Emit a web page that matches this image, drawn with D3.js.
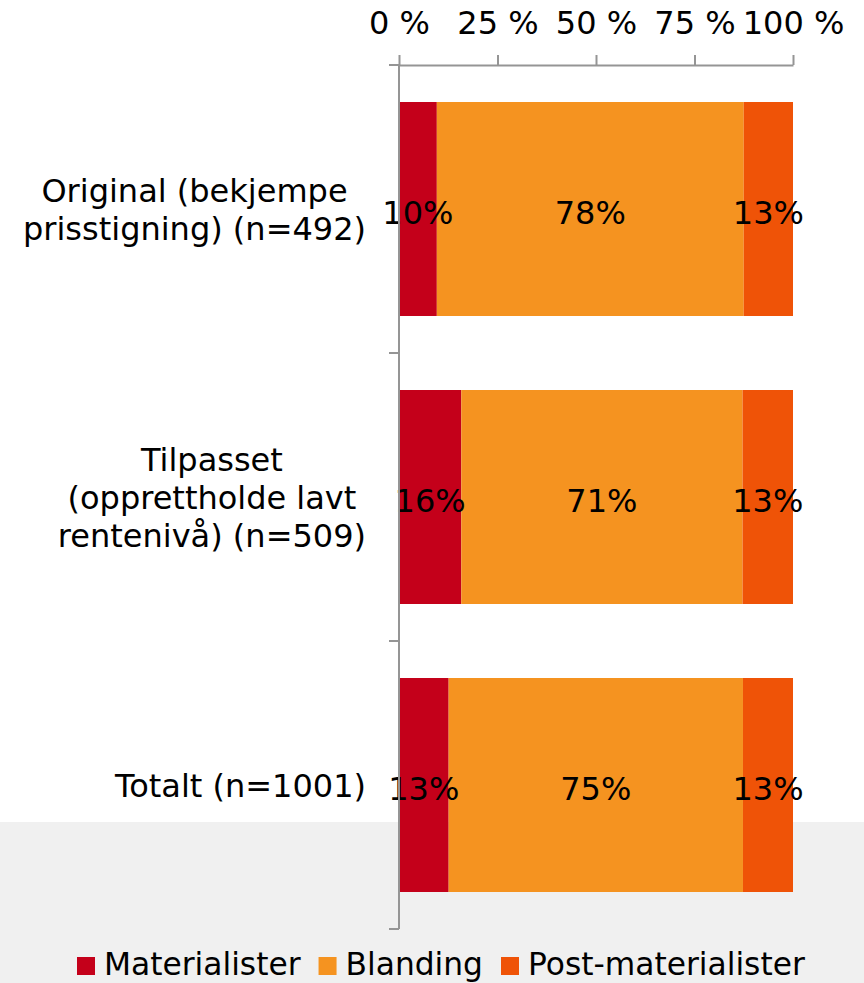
<!DOCTYPE html>
<html>
<head>
<meta charset="utf-8">
<script src="https://cdn.jsdelivr.net/npm/d3@7"></script>
<style>
  html, body { margin: 0; padding: 0; background: #fff; }
  svg { display: block; font-family: "DejaVu Sans", Verdana, sans-serif; }
</style>
</head>
<body>
<svg id="chart" width="864" height="983"></svg>
<script>
// ---- data ----
const categories = [
  ["Original (bekjempe", "prisstigning) (n=492)"],
  ["Tilpasset", "(opprettholde lavt", "rentenivå) (n=509)"],
  ["Totalt (n=1001)"]
];
const seriesNames = ["Materialister", "Blanding", "Post-materialister"];
const materialister = [9.6, 15.8, 12.6];
const blanding = [77.9, 71.4, 74.7];
const postMaterialister = [12.5, 12.8, 12.7];
const tickValues = [0, 25, 50, 75, 100];
const colors = ["#C4001A", "#F59320", "#EF5307"];

// ---- layout ----
const svg = d3.select("#chart");
const W = 864, H = 983;
const axisY = 65, plotBottom = 929;
const x = d3.scaleLinear().domain([0, 100]).range([399, 793]);
const catKeys = categories.map((c, i) => "c" + i);
const yOuter = d3.scaleBand().domain(catKeys).range([axisY, plotBottom]);
const barH = yOuter.step() * 0.743;
const barOff = (yOuter.step() - barH) / 2;

// gray bottom background
svg.append("rect").attr("x", 0).attr("y", 822).attr("width", W).attr("height", H - 822).attr("fill", "#F0F0F0");

// stacked data
const rows = catKeys.map((k, i) => ({ key: k, Materialister: materialister[i], Blanding: blanding[i], "Post-materialister": postMaterialister[i] }));
const stack = d3.stack().keys(seriesNames);
const stacked = stack(rows);

const gBars = svg.append("g");
stacked.forEach((layer, si) => {
  gBars.selectAll(null).data(layer).enter().append("rect")
    .attr("x", d => x(d[0]))
    .attr("width", d => x(d[1]) - x(d[0]))
    .attr("y", d => yOuter(d.data.key) + barOff)
    .attr("height", barH)
    .attr("fill", colors[si]);
});

// data labels
stacked.forEach((layer, si) => {
  gBars.selectAll(null).data(layer).enter().append("text")
    .attr("x", d => (x(d[0]) + x(d[1])) / 2)
    .attr("y", d => yOuter(d.data.key) + yOuter.step() / 2 + 3)
    .attr("dy", "0.36em")
    .attr("text-anchor", "middle")
    .attr("font-size", 32)
    .attr("fill", "#000")
    .text(d => Math.round(d[1] - d[0]) + "%");
});

// top axis
const axisColor = "#959595";
const xAxis = d3.axisTop(x).tickValues(tickValues).tickSize(10).tickSizeOuter(0).tickPadding(21)
  .tickFormat(d => d + " %");
const gx = svg.append("g").attr("transform", `translate(0,${axisY})`).call(xAxis);
gx.select(".domain").attr("stroke", axisColor).attr("stroke-width", 2);
gx.selectAll(".tick line").attr("stroke", axisColor).attr("stroke-width", 2);
gx.selectAll(".tick text").attr("font-size", 32).attr("fill", "#000").attr("font-family", "DejaVu Sans, Verdana, sans-serif");

// left axis (vertical line + ticks at band boundaries)
const gy = svg.append("g");
gy.append("line").attr("x1", x(0)).attr("x2", x(0)).attr("y1", axisY).attr("y2", plotBottom)
  .attr("stroke", axisColor).attr("stroke-width", 2);
const bounds = catKeys.map(k => yOuter(k)).concat([yOuter.range()[1]]);
gy.selectAll(null).data(bounds).enter().append("line")
  .attr("x1", x(0) - 10).attr("x2", x(0)).attr("y1", d => d).attr("y2", d => d)
  .attr("stroke", axisColor).attr("stroke-width", 2);

// category labels (multi-line, block right-aligned, lines centered)
const lineH = 38;
const labelRight = x(0) - 33;
categories.forEach((lines, i) => {
  const cy = yOuter(catKeys[i]) + yOuter.step() / 2;
  const g = svg.append("g");
  const texts = lines.map((ln, j) => g.append("text")
    .attr("y", cy + (j - (lines.length - 1) / 2) * lineH)
    .attr("dy", "0.36em")
    .attr("text-anchor", "middle")
    .attr("font-size", 32)
    .attr("fill", "#000")
    .text(ln));
  const maxW = d3.max(texts, t => t.node().getComputedTextLength());
  texts.forEach(t => t.attr("x", labelRight - maxW / 2));
});

// legend
const legend = svg.append("g");
let lx = 0;
seriesNames.forEach((name, i) => {
  const g = legend.append("g");
  g.append("rect").attr("x", 0).attr("y", -18).attr("width", 18).attr("height", 18).attr("fill", colors[i]);
  const t = g.append("text").attr("x", 27).attr("y", 0).attr("font-size", 31.3).attr("fill", "#000").text(name);
  const w = 27 + t.node().getComputedTextLength();
  g.attr("transform", `translate(${lx},0)`);
  lx += w + 18;
});
legend.attr("transform", `translate(77,975)`);
</script>
</body>
</html>
